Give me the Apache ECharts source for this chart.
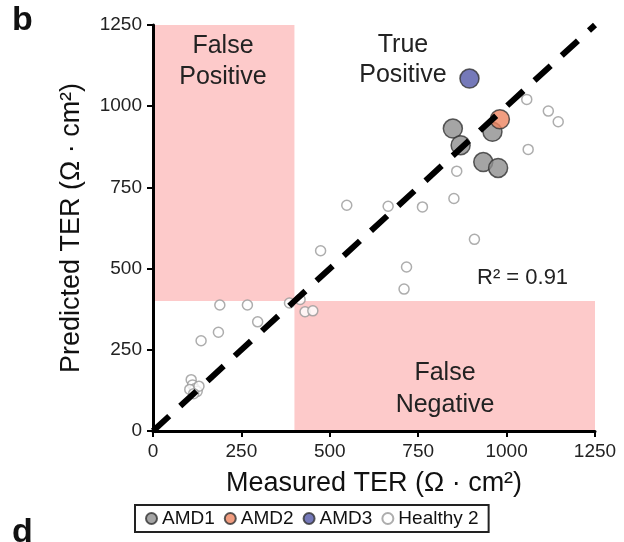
<!DOCTYPE html>
<html>
<head>
<meta charset="utf-8">
<script src="https://cdn.jsdelivr.net/npm/echarts@6/dist/echarts.min.js"></script>
<style>
  html, body { margin: 0; padding: 0; background: #fff; }
  #chart { width: 624px; height: 542px; }
</style>
</head>
<body>
<div id="chart"></div>
<script>
// tick values on both axes
const ticks = [0, 250, 500, 750, 1000, 1250]

// measured vs predicted TER
const amd1 = [[848, 931], [870, 880], [960, 921], [934, 828], [976, 810]]
const amd2 = [[981, 960]]
const amd3 = [[895, 1085]]
const healthy2 = [
  [1057, 1021], [1118, 985], [1146, 952], [1061, 867], [859, 800], [851, 716],
  [548, 695], [665, 692], [762, 690], [909, 590], [474, 555], [717, 505],
  [710, 437], [189, 388], [267, 388], [386, 394], [416, 405], [430, 367],
  [452, 370], [296, 336], [185, 304], [136, 278],
  [108, 158], [112, 142], [118, 130], [125, 122], [104, 128], [130, 138], [115, 115]
]
// shaded regions [x0, y0, x1, y1]
const falsePositive = [0, 400, 400, 1250]
const falseNegative = [400, 0, 1250, 400]
const identityLine = [[0, 0], [1250, 1250]]

const font = 'Liberation Sans, Arial, sans-serif'

let myChart = echarts.init(document.getElementById('chart'))

function region(r) {
  return [{ coord: [r[0], r[1]] }, { coord: [r[2], r[3]] }]
}

function note(x, y, text, size, lh) {
  return {
    type: 'text', z: 20, x: x, y: y,
    style: { text: text, font: size + 'px ' + font, fill: '#222', align: 'center', verticalAlign: 'middle', lineHeight: lh }
  }
}

function axis(name, gap, rotate) {
  return {
    type: 'value',
    z: 10,
    min: ticks[0],
    max: ticks[ticks.length - 1],
    interval: 250,
    name: name,
    nameLocation: 'middle',
    nameRotate: rotate,
    nameGap: gap,
    nameTextStyle: { fontSize: 27, color: '#111', fontFamily: font },
    axisLine: { lineStyle: { color: '#000', width: 3 } },
    axisTick: { length: 6, lineStyle: { color: '#000', width: 2 } },
    axisLabel: { fontSize: 19, color: '#222', margin: 11, fontFamily: font, formatter: v => String(v) },
    splitLine: { show: false }
  }
}

myChart.setOption({
  animation: false,
  textStyle: { fontFamily: font },
  grid: { left: 153, right: 29, top: 25, bottom: 111, containLabel: false },
  xAxis: axis('Measured TER (Ω · cm²)', 39, 0),
  yAxis: axis('Predicted TER (Ω · cm²)', 68, 90),
  legend: {
    left: 135,
    top: 505,
    padding: [4, 10],
    borderColor: '#222',
    borderWidth: 2,
    itemWidth: 11,
    itemHeight: 11,
    itemGap: 9,
    textStyle: { fontSize: 19, color: '#111', fontFamily: font },
    data: ['AMD1', 'AMD2', 'AMD3', 'Healthy 2']
  },
  graphic: [
    { type: 'text', z: 20, left: 12, top: 4, style: { text: 'b', font: 'bold 34px ' + font, fill: '#111' } },
    { type: 'text', z: 20, left: 12, top: 516, style: { text: 'd', font: 'bold 34px ' + font, fill: '#111' } },
    note(223, 62, 'False\nPositive', 25, 31),
    note(403, 60, 'True\nPositive', 25, 30),
    note(445, 389, 'False\nNegative', 25, 32),
    {
      type: 'text', z: 20, x: 477, y: 278,
      style: { text: 'R² = 0.91', font: '22px ' + font, fill: '#222', verticalAlign: 'middle' }
    }
  ],
  series: [
    {
      name: 'regions',
      type: 'scatter',
      data: [],
      z: 1,
      silent: true,
      markArea: {
        silent: true,
        itemStyle: { color: '#fdcaca' },
        data: [region(falsePositive), region(falseNegative)]
      }
    },
    {
      name: 'Healthy 2',
      type: 'scatter',
      symbol: 'circle',
      symbolSize: 10,
      z: 2,
      itemStyle: { color: '#fff', borderColor: '#999', borderWidth: 1.5 },
      data: healthy2
    },
    {
      name: 'AMD1',
      type: 'scatter',
      symbol: 'circle',
      symbolSize: 19,
      z: 3,
      itemStyle: { color: '#8e8e8e', borderColor: '#333', borderWidth: 1.5 },
      data: amd1
    },
    {
      name: 'AMD2',
      type: 'scatter',
      symbol: 'circle',
      symbolSize: 19,
      z: 3,
      itemStyle: { color: '#ee8560', borderColor: '#333', borderWidth: 1.5 },
      data: amd2
    },
    {
      name: 'AMD3',
      type: 'scatter',
      symbol: 'circle',
      symbolSize: 19,
      z: 3,
      itemStyle: { color: '#5357a8', borderColor: '#333', borderWidth: 1.5 },
      data: amd3
    },
    {
      name: 'identity',
      type: 'line',
      symbol: 'none',
      z: 5,
      silent: true,
      lineStyle: { color: '#000', width: 6, type: [22, 15], cap: 'butt' },
      data: identityLine
    }
  ]
})
</script>
</body>
</html>
